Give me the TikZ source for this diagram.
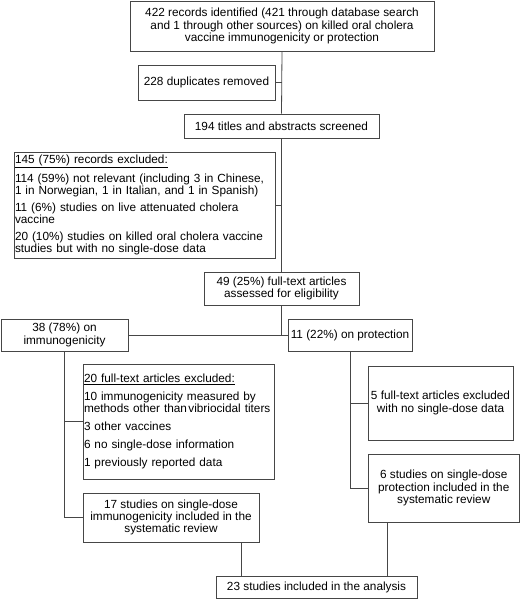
\documentclass[tikz,border=0pt]{standalone}
\usepackage{fontspec}
\setmainfont{Liberation Sans}
\usetikzlibrary{calc}
\definecolor{linegray}{RGB}{70,70,70}
\begin{document}
\begin{tikzpicture}[x=1pt,y=-1pt,
  every node/.style={font=\fontsize{11.8}{12.3}\selectfont},
  cbox/.style={draw=linegray,line width=0.8pt,inner sep=0pt,align=center,minimum width=#1},
  lbox/.style={draw=linegray,line width=0.8pt,inner xsep=1pt,inner ysep=0pt,align=left,text width=#1},
  conn/.style={draw=linegray,line width=0.8pt}]
\useasboundingbox (0,0) rectangle (520,599);
\node[cbox=304pt,minimum height=50pt] (b1) at (282,26) {422 records identified (421 through database search\\and 1 through other sources) on killed oral cholera\\vaccine immunogenicity or protection};
\node[cbox=137pt,minimum height=35pt] (b2) at (206.5,82.5) {228 duplicates removed};
\node[cbox=195pt,minimum height=24pt] (b3) at (281.5,126) {194 titles and abstracts screened};
\node[lbox=259pt,minimum height=106pt] (b4) at (144.5,205) {\underline{145 (75\%) records excluded:}\\[4.5pt]\mbox{114 (59\%) not relevant (including 3 in Chinese,}\\\mbox{1 in Norwegian, 1 in Italian, and 1 in Spanish)}\\[4.5pt]11 (6\%) studies on live attenuated cholera\\vaccine\\[4.5pt]\mbox{20 (10\%) studies on killed oral cholera vaccine}\\studies but with no single-dose data};
\node[cbox=155pt,minimum height=33pt] (b5) at (281.5,288.5) {49 (25\%) full-text articles\\assessed for eligibility};
\node[cbox=127pt,minimum height=32pt] (b6) at (64.5,335) {38 (78\%) on\\immunogenicity};
\node[cbox=124pt,minimum height=32pt] (b7) at (350,335) {11 (22\%) on protection};
\node[lbox=189pt,minimum height=115pt] (b8) at (178.5,421.5) {\underline{20 full-text articles excluded:}\\[5.5pt]10 immunogenicity measured by\\\mbox{methods other than\hspace{0.12em}vibriocidal titers}\\[5.5pt]3 other vaccines\\[5.5pt]6 no single-dose information\\[5.5pt]1 previously reported data};
\node[cbox=145pt,minimum height=74pt] (b9) at (440.5,403) {5 full-text articles excluded\\with no single-dose data};
\node[cbox=151pt,minimum height=68pt] (b10) at (443.75,488) {6 studies on single-dose\\protection included in the\\systematic review};
\node[cbox=176pt,minimum height=49pt] (b11) at (171,517.5) {17 studies on single-dose\\immunogenicity included in the\\systematic review};
\node[cbox=201pt,minimum height=22pt] (b12) at (316.5,587) {23 studies included in the analysis};
\coordinate (xr) at (387,0);
\coordinate (xl) at (241,0);
\draw[conn] (b1.south) -- (b3.north);
\draw[conn] (b3.south) -- (b5.north);
\draw[conn] (b2.east) -- (b2.east -| b1.south);
\draw[conn] (b4.east) -- (b4.east -| b3.south);
\draw[conn] (b5.south) -- (b5.south |- b6.east);
\draw[conn] (b6.east) -- (b7.west);
\draw[conn] (b6.south) |- (b11.west);
\draw[conn] (b8.west -| b6.south) -- (b8.west);
\draw[conn] (b7.south) |- (b10.west);
\draw[conn] (b9.west -| b7.south) -- (b9.west);
\draw[conn] (b10.south -| xr) -- (b12.north -| xr);
\draw[conn] (b11.south -| xl) -- (b12.north -| xl);
\end{tikzpicture}
\end{document}
